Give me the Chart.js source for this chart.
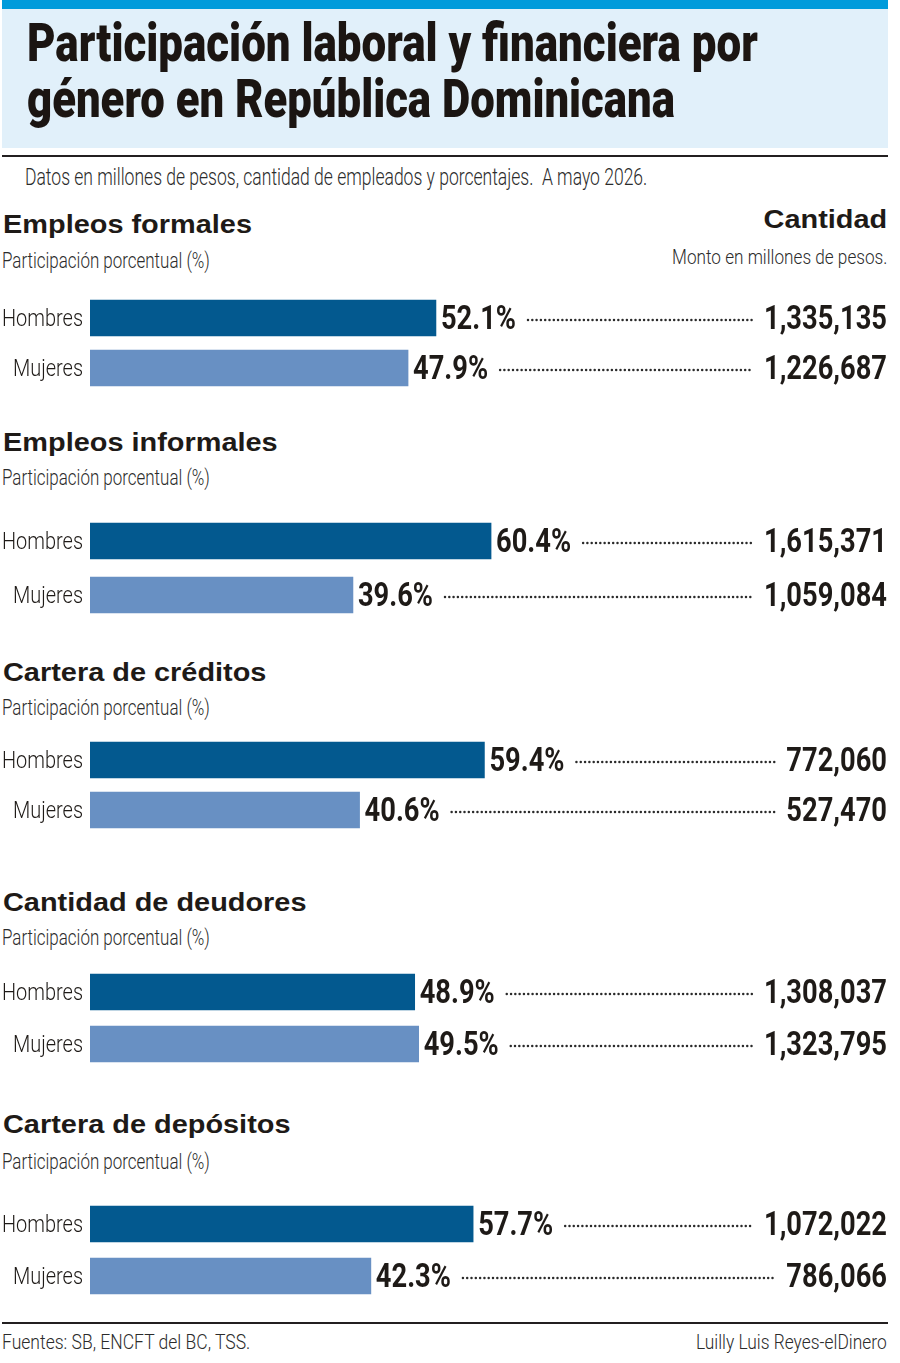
<!DOCTYPE html>
<html lang="es">
<head>
<meta charset="utf-8">
<title>Participación laboral y financiera por género en República Dominicana</title>
<script src="https://cdn.jsdelivr.net/npm/chart.js@4.4.1/dist/chart.umd.min.js"></script>
<style>
  html, body { margin: 0; padding: 0; background: #fff; }
  #page { position: relative; width: 900px; height: 1363px; overflow: hidden; color: #1e1a17; }
  .stripe { position: absolute; left: 2px; top: 0; width: 886px; height: 9px; background: #009bdb; }
  .box { position: absolute; left: 2px; top: 9px; width: 886px; height: 139px; background: #e1f0fa; }
  .rule { position: absolute; left: 2px; width: 886px; height: 2px; background: #231f20; }
  .txt { position: absolute; white-space: pre; }
  .title { font-family: Roboto, "Liberation Sans", sans-serif; font-weight: 900; color: #1b1512; }
  .light { font-family: Roboto, "Liberation Sans", sans-serif; font-weight: 300; color: #2b2b2b; }
  .head { font-family: "Liberation Sans", Arial, sans-serif; font-weight: bold; color: #1e1a17; }
  canvas { position: absolute; left: 0; }
</style>
</head>
<body>
<div id="page">
  <div class="stripe"></div>
  <div class="box"></div>
  <div class="rule" style="top:155px"></div>
  <div class="rule" style="top:1322px"></div>
</div>
<script>
const sections = ['Empleos formales', 'Empleos informales', 'Cartera de créditos', 'Cantidad de deudores', 'Cartera de depósitos'];
const genders = ['Hombres', 'Mujeres'];
const pctHombres = [52.1, 60.4, 59.4, 48.9, 57.7];
const pctMujeres = [47.9, 39.6, 40.6, 49.5, 42.3];
const montoHombres = [1335135, 1615371, 772060, 1308037, 1072022];
const montoMujeres = [1226687, 1059084, 527470, 1323795, 786066];

// layout: heading / subheading centre, first bar centre, distance between bars
const headY = [224, 442, 672, 902, 1124];
const subY = [261, 478, 708, 938, 1162];
const barY = [318, 541, 760, 992, 1224];
const barStep = [50, 54, 50, 52, 52];

const DARK = '#03598f';
const LIGHT = '#6890c3';
const INK = '#1e1a17';
const page = document.getElementById('page');

function addText(str, cls, size, cy, opts) {
  const el = document.createElement('div');
  el.className = 'txt ' + cls;
  el.textContent = str;
  el.style.fontSize = size + 'px';
  el.style.lineHeight = '1';
  el.style.top = (cy - 0.49 * size) + 'px';
  if (opts.right != null) {
    el.style.right = (900 - opts.right) + 'px';
    el.style.transformOrigin = '100% 50%';
  } else {
    el.style.left = opts.left + 'px';
    el.style.transformOrigin = '0 50%';
  }
  page.appendChild(el);
  let k = opts.scale;
  if (opts.width) k = opts.width / el.offsetWidth;
  if (k) el.style.transform = 'scaleX(' + k + ')';
  return k;
}

// header
addText('Participación laboral y financiera por', 'title', 54, 42, { left: 27, width: 731 });
addText('género en República Dominicana', 'title', 54, 98, { left: 27, width: 648 });
addText('Datos en millones de pesos, cantidad de empleados y porcentajes.  A mayo 2026.', 'light', 24, 176.5, { left: 25, width: 622 });
const kHead = addText(sections[0], 'head', 26, headY[0], { left: 3, width: 249 });
addText('Cantidad', 'head', 26, 219, { right: 887, scale: kHead });
addText('Monto en millones de pesos.', 'light', 21, 257, { right: 887, width: 215 });

// footer
addText('Fuentes: SB, ENCFT del BC, TSS.', 'light', 20, 1342, { left: 2, width: 248 });
addText('Luilly Luis Reyes-elDinero', 'light', 20, 1342, { right: 887, width: 191 });

// condensed fonts for canvas text
const LABEL_FONT = '300 23px Roboto, "Liberation Sans", sans-serif';
const NUM_FONT = 'bold 33px Roboto, "Liberation Sans", sans-serif';
const probe = document.createElement('canvas').getContext('2d');
probe.font = LABEL_FONT;
const kLabel = 81 / probe.measureText('Hombres').width;
probe.font = NUM_FONT;
const kNum = 123 / probe.measureText('1,335,135').width;

const fmt = new Intl.NumberFormat('en-US');

function squeezeText(ctx, str, x, cy, size, k, align) {
  const w = ctx.measureText(str).width * k;
  ctx.save();
  ctx.translate(x, cy + 0.355 * size);
  ctx.scale(k, 1);
  ctx.textAlign = align;
  ctx.textBaseline = 'alphabetic';
  ctx.fillText(str, 0, 0);
  ctx.restore();
  return w;
}

function rowLabels(montos) {
  return {
    id: 'rowLabels',
    afterDatasetsDraw(chart) {
      const ctx = chart.ctx;
      const values = chart.data.datasets[0].data;
      chart.getDatasetMeta(0).data.forEach((bar, i) => {
        const cy = bar.y;
        ctx.fillStyle = INK;
        ctx.font = LABEL_FONT;
        squeezeText(ctx, chart.data.labels[i], 83, cy, 23, kLabel, 'right');
        ctx.font = NUM_FONT;
        const pctW = squeezeText(ctx, values[i].toFixed(1) + '%', bar.x + 5, cy - 1, 33, kNum, 'left');
        const amtW = squeezeText(ctx, fmt.format(montos[i]), 887, cy - 1, 33, kNum, 'right');
        const x0 = bar.x + 5 + pctW + 12;
        const x1 = 887 - amtW - 12;
        ctx.fillStyle = '#2a2a2a';
        for (let x = x0; x <= x1; x += 4.3) {
          ctx.beginPath();
          ctx.arc(x, cy + 2, 1.25, 0, Math.PI * 2);
          ctx.fill();
        }
      });
    }
  };
}

sections.forEach((name, s) => {
  if (s > 0) addText(name, 'head', 26, headY[s], { left: 3, scale: kHead });
  addText('Participación porcentual (%)', 'light', 22, subY[s], { left: 2, width: 208 });

  const h = barStep[s] * 2;
  const cv = document.createElement('canvas');
  cv.width = 900;
  cv.height = h;
  cv.style.width = '900px';
  cv.style.height = h + 'px';
  cv.style.top = (barY[s] - barStep[s] / 2) + 'px';
  page.appendChild(cv);

  new Chart(cv, {
    type: 'bar',
    data: {
      labels: genders,
      datasets: [{
        data: [pctHombres[s], pctMujeres[s]],
        backgroundColor: [DARK, LIGHT],
        borderWidth: 0,
        barThickness: 36
      }]
    },
    options: {
      indexAxis: 'y',
      responsive: false,
      animation: false,
      layout: { padding: { left: 90, right: 146, top: 0, bottom: 0 } },
      scales: {
        x: { display: false, min: 0, max: 100 },
        y: { display: false }
      },
      plugins: { legend: { display: false }, tooltip: { enabled: false } }
    },
    plugins: [rowLabels([montoHombres[s], montoMujeres[s]])]
  });
});
</script>
</body>
</html>
